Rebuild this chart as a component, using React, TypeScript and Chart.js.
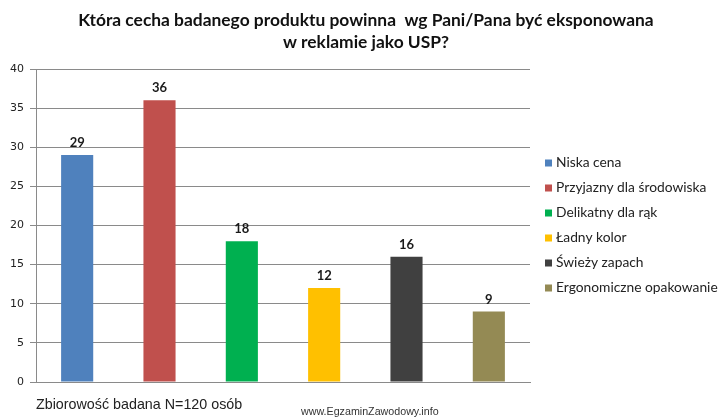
import React, { useEffect, useRef } from "react";
import { Chart, registerables } from "chart.js";

Chart.register(...registerables);

const categories = [
  "Niska cena",
  "Przyjazny dla środowiska",
  "Delikatny dla rąk",
  "Ładny kolor",
  "Świeży zapach",
  "Ergonomiczne opakowanie",
];
const values = [29, 36, 18, 12, 16, 9];
const colors = ["#4F81BD", "#C0504D", "#00B050", "#FFC000", "#404040", "#948A54"];
const titleLines = [
  "Która cecha badanego produktu powinna  wg Pani/Pana być eksponowana",
  "w reklamie jako USP?",
];
const footNote = "Zbiorowość badana N=120 osób";
const watermark = "www.EgzaminZawodowy.info";

const overlayPlugin = {
  id: "overlay",
  afterDatasetsDraw(chart: any) {
    const ctx = chart.ctx;
    const meta = chart.getDatasetMeta(0);
    ctx.save();
    ctx.fillStyle = "#1a1a1a";
    ctx.font = "bold 13px Lato, 'Open Sans', sans-serif";
    ctx.textAlign = "center";
    ctx.textBaseline = "alphabetic";
    meta.data.forEach((bar: any, i: number) => {
      ctx.fillText(String(values[i]), bar.x, bar.y - 8);
    });
    ctx.restore();
  },
  afterDraw(chart: any) {
    const ctx = chart.ctx;
    const area = chart.chartArea;
    ctx.save();
    // title
    ctx.fillStyle = "#111";
    ctx.font = "bold 17.4px Lato, 'Open Sans', sans-serif";
    ctx.textAlign = "center";
    ctx.textBaseline = "middle";
    ctx.fillText(titleLines[0], 366, 20);
    ctx.fillText(titleLines[1], 366, 42);

    // legend
    ctx.font = "13.8px Lato, 'Open Sans', sans-serif";
    ctx.textAlign = "left";
    ctx.textBaseline = "middle";
    const step = 25;
    const startY = (area.top + area.bottom) / 2 - (step * (categories.length - 1)) / 2;
    categories.forEach((c, i) => {
      const y = startY + i * step;
      ctx.fillStyle = colors[i];
      ctx.fillRect(area.right + 15, y - 3.5, 7, 7);
      ctx.fillStyle = "#222";
      ctx.fillText(c, area.right + 26, y);
    });

    // footnotes
    ctx.fillStyle = "#222";
    ctx.font = "14.3px 'Liberation Sans', Arial, sans-serif";
    ctx.textBaseline = "middle";
    ctx.fillText(footNote, 36, 405);
    ctx.fillStyle = "#333";
    ctx.font = "10.7px 'Liberation Sans Narrow', 'Liberation Sans', sans-serif";
    ctx.fillText(watermark, 301, 412);
    ctx.restore();
  },
};

export default function App() {
  const ref = useRef<HTMLCanvasElement | null>(null);
  useEffect(() => {
    document.body.style.margin = "0";
    const canvas = ref.current!;
    const chart = new Chart(canvas, {
      type: "bar",
      data: {
        labels: categories,
        datasets: [
          {
            data: values,
            backgroundColor: colors,
            borderWidth: 0,
            categoryPercentage: 1,
            barPercentage: 0.39,
          },
        ],
      },
      options: {
        animation: false,
        responsive: false,
        layout: { padding: { top: 69, bottom: 38, left: 0, right: 196 } },
        plugins: {
          legend: { display: false },
          title: { display: false },
          tooltip: { enabled: false },
        },
        scales: {
          x: {
            grid: { display: false, drawTicks: false },
            ticks: { display: false },
            border: { display: true, color: "#8a8a8a", width: 1 },
            afterFit: (s: any) => {
              s.height = 0;
            },
          },
          y: {
            min: 0,
            max: 40,
            ticks: {
              stepSize: 5,
              color: "#222",
              padding: 6,
              font: { family: "'DejaVu Sans', sans-serif", size: 11 },
            },
            grid: { color: "#8a8a8a", tickLength: 6, lineWidth: 1 },
            border: { display: true, color: "#8a8a8a", width: 1 },
            afterFit: (s: any) => {
              s.width = 36;
            },
          },
        },
      },
      plugins: [overlayPlugin],
    });
    return () => chart.destroy();
  }, []);
  return (
    <div style={{ width: 726, height: 420, background: "#fff" }}>
      <canvas ref={ref} width={726} height={420} style={{ display: "block" }} />
    </div>
  );
}
